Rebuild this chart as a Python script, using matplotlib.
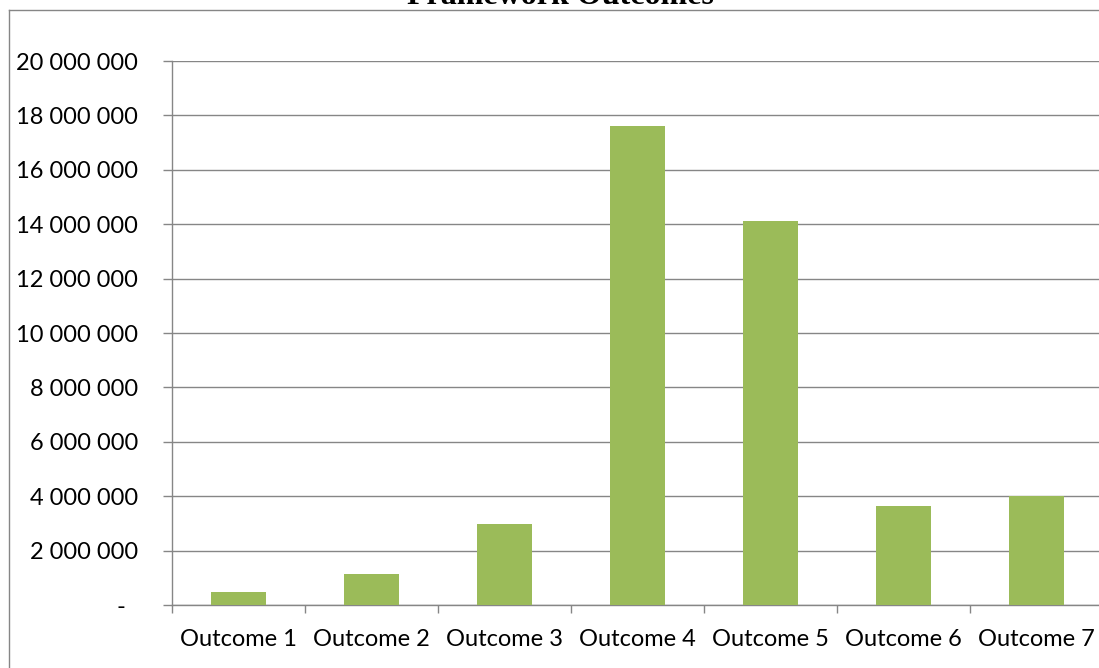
import matplotlib
matplotlib.use("Agg")
import matplotlib.pyplot as plt
from matplotlib.lines import Line2D
from matplotlib.ticker import FuncFormatter, MultipleLocator, FixedLocator
import numpy as np

# chart data
title = "Framework Outcomes"
categories = ["Outcome 1", "Outcome 2", "Outcome 3", "Outcome 4",
              "Outcome 5", "Outcome 6", "Outcome 7"]
values = [480000, 1140000, 2980000, 17600000, 14100000, 3630000, 4020000]

W, H = 1099, 668
BAR_COLOR = "#9BBB59"
GRID_COLOR = "#868686"

plt.rcParams["font.family"] = ["Lato", "DejaVu Sans"]

fig = plt.figure(figsize=(W / 100, H / 100), dpi=100)
# axes placed in pixel terms; right side runs just past the canvas edge
ax = fig.add_axes([172 / W, 1 - 605 / H, (1103 - 172) / W, (605 - 61) / H])

x = np.arange(len(categories))
ax.bar(x, values, width=0.41, color=BAR_COLOR, zorder=3)

ax.set_xlim(-0.5, len(categories) - 0.5)
ax.set_ylim(0, 20000000)
ax.yaxis.set_major_locator(MultipleLocator(2000000))


def fmt(v, pos):
    if v == 0:
        return "-  "
    return f"{int(v):,}".replace(",", " ")


ax.yaxis.set_major_formatter(FuncFormatter(fmt))
ax.grid(axis="y", color=GRID_COLOR, linewidth=1.0, zorder=0)

ax.set_xticks(x)
ax.set_xticklabels(categories)
ax.xaxis.set_minor_locator(FixedLocator(np.arange(-0.5, len(categories), 1.0)))
ax.tick_params(axis="x", which="major", length=0, pad=17, labelsize=17)
ax.tick_params(axis="x", which="minor", length=6, width=1.0, color=GRID_COLOR)
ax.tick_params(axis="y", length=6.5, width=1.0, color=GRID_COLOR, pad=18,
               labelsize=17)

for side in ("top", "right"):
    ax.spines[side].set_visible(False)
for side in ("left", "bottom"):
    ax.spines[side].set_color(GRID_COLOR)
    ax.spines[side].set_linewidth(1.0)

# outer chart frame (left and top edges visible)
fig.add_artist(Line2D([8.5 / W, 8.5 / W], [0, 1 - 10 / H],
                      transform=fig.transFigure, color=GRID_COLOR, linewidth=1.0))
fig.add_artist(Line2D([8.5 / W, 1], [1 - 10 / H, 1 - 10 / H],
                      transform=fig.transFigure, color=GRID_COLOR, linewidth=1.0))

# title sits mostly above the canvas, only its lower part shows
fig.text(560 / W, 1 - 4 / H, title, ha="center", va="baseline",
         fontsize=23, fontweight="bold", family=["Liberation Serif", "DejaVu Serif"])

fig.savefig("out.png", dpi=100)
